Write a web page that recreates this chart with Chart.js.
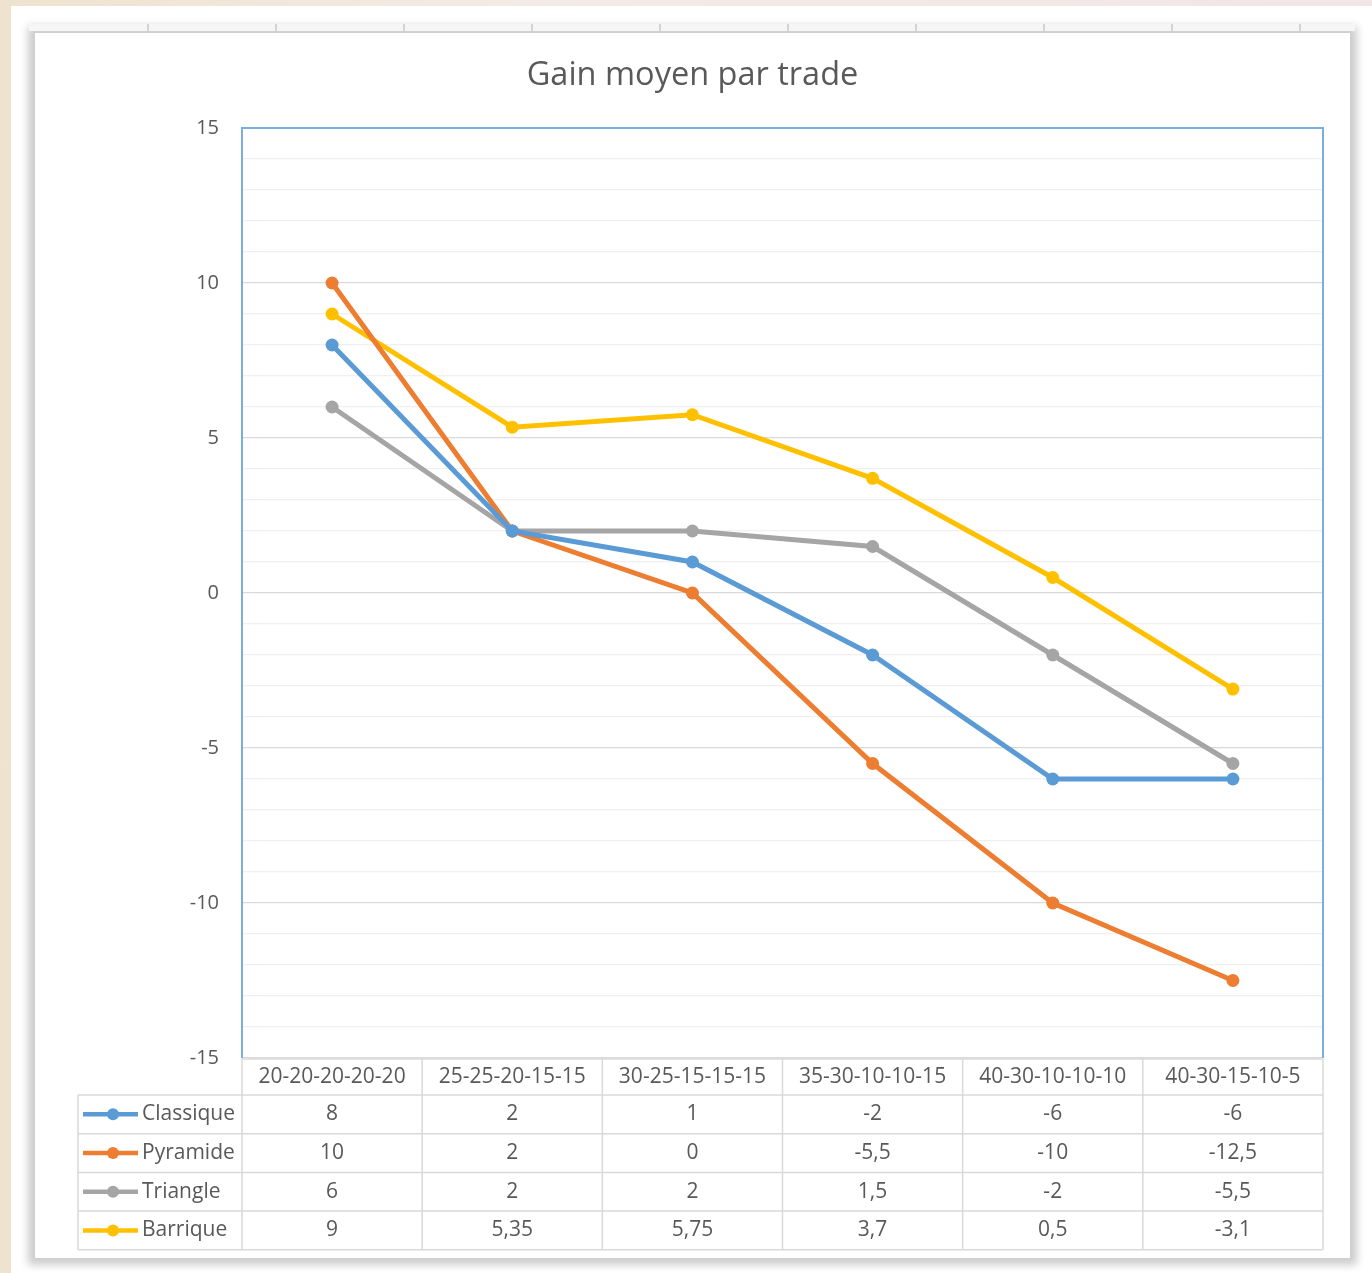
<!DOCTYPE html>
<html lang="fr">
<head>
<meta charset="utf-8">
<title>Gain moyen par trade</title>
<script src="https://cdn.jsdelivr.net/npm/chart.js@4.4.1/dist/chart.umd.min.js"></script>
<style>
  html, body { margin: 0; padding: 0; }
  body {
    width: 1372px; height: 1273px; overflow: hidden; position: relative;
    background: linear-gradient(90deg, #efe3cf 0%, #f3ebe6 40%, #f1e6e6 100%);
  }
  .sheet { position: absolute; left: 11px; top: 6px; right: 0; bottom: 0; background: #fff; }
  .card {
    position: absolute; left: 35px; top: 33px; width: 1315px; height: 1225px;
    background: #fff;
    box-shadow: 0 0 8px 7px rgba(0, 0, 0, 0.2);
  }
  .strip {
    position: absolute; left: 29px; top: 24px; width: 1326px; height: 7px;
    background: repeating-linear-gradient(90deg, #f6f6f6 0, #f6f6f6 126px, #d4d4d4 126px, #d4d4d4 128px);
    background-position: -8px 0;
    z-index: 2;
  }
  canvas { display: block; }
</style>
</head>
<body>
<div class="sheet"></div>
<div class="card"><canvas id="gainChart" width="1315" height="1225" style="width:1315px;height:1225px"></canvas></div>
<div class="strip"></div>
<script>
  const categories = ['20-20-20-20-20', '25-25-20-15-15', '30-25-15-15-15', '35-30-10-10-15', '40-30-10-10-10', '40-30-15-10-5'];
  const classique = [8, 2, 1, -2, -6, -6];
  const pyramide = [10, 2, 0, -5.5, -10, -12.5];
  const triangle = [6, 2, 2, 1.5, -2, -5.5];
  const barrique = [9, 5.35, 5.75, 3.7, 0.5, -3.1];
  const seriesNames = ['Classique', 'Pyramide', 'Triangle', 'Barrique'];
  const seriesColors = ['#5b9bd5', '#ed7d31', '#a5a5a5', '#ffc000'];
  const yTicks = [-15, -10, -5, 0, 5, 10, 15];

  const textColor = '#595959';
  const font = '"Open Sans", "Noto Sans", sans-serif';

  // French decimal comma for the table
  function fr(v) {
    return String(v).replace('.', ',');
  }

  // Blue frame around the plot area (top, left, right)
  const plotFrame = {
    id: 'plotFrame',
    beforeDatasetsDraw(chart) {
      const { ctx, chartArea: a } = chart;
      ctx.save();
      ctx.strokeStyle = '#7aaee0';
      ctx.lineWidth = 2;
      ctx.beginPath();
      ctx.moveTo(a.left, a.bottom);
      ctx.lineTo(a.left, a.top);
      ctx.lineTo(a.right, a.top);
      ctx.lineTo(a.right, a.bottom);
      ctx.stroke();
      ctx.restore();
    }
  };

  // Excel-style data table below the plot
  const dataTable = {
    id: 'dataTable',
    afterDraw(chart) {
      const { ctx, chartArea: a, scales: { x } } = chart;
      const half = (x.getPixelForValue(1) - x.getPixelForValue(0)) / 2;
      const headTop = a.bottom + 1;
      const headH = 36;
      const rowH = 38.7;
      const keyLeft = 43;
      const rowsTop = headTop + headH;
      const rowsBottom = rowsTop + rowH * seriesNames.length;
      const rows = chart.data.datasets;

      ctx.save();
      ctx.strokeStyle = '#d9d9d9';
      ctx.lineWidth = 1.5;
      ctx.beginPath();
      // horizontal lines
      ctx.moveTo(a.left, headTop);
      ctx.lineTo(a.right, headTop);
      for (let r = 0; r <= rows.length; r++) {
        const y = rowsTop + r * rowH;
        ctx.moveTo(keyLeft, y);
        ctx.lineTo(a.right, y);
      }
      // vertical lines
      ctx.moveTo(keyLeft, rowsTop);
      ctx.lineTo(keyLeft, rowsBottom);
      categories.forEach((c, i) => {
        const xl = x.getPixelForValue(i) - half;
        ctx.moveTo(xl, headTop);
        ctx.lineTo(xl, rowsBottom);
      });
      ctx.moveTo(a.right, headTop);
      ctx.lineTo(a.right, rowsBottom);
      ctx.stroke();

      ctx.fillStyle = textColor;
      ctx.font = '21px ' + font;
      ctx.textBaseline = 'middle';
      ctx.textAlign = 'center';
      categories.forEach((c, i) => {
        ctx.fillText(c, x.getPixelForValue(i), headTop + headH / 2);
      });

      rows.forEach((ds, r) => {
        const yc = rowsTop + r * rowH + rowH / 2;
        // legend key
        ctx.strokeStyle = ds.borderColor;
        ctx.lineWidth = 4.5;
        ctx.beginPath();
        ctx.moveTo(keyLeft + 5, yc);
        ctx.lineTo(keyLeft + 60, yc);
        ctx.stroke();
        ctx.fillStyle = ds.borderColor;
        ctx.beginPath();
        ctx.arc(keyLeft + 35, yc, 6, 0, Math.PI * 2);
        ctx.fill();

        ctx.fillStyle = textColor;
        ctx.textAlign = 'left';
        ctx.fillText(ds.label, keyLeft + 64, yc);
        ctx.textAlign = 'center';
        ds.data.forEach((v, i) => {
          ctx.fillText(fr(v), x.getPixelForValue(i), yc);
        });
      });
      ctx.restore();
    }
  };

  const seriesValues = [classique, pyramide, triangle, barrique];

  const ctx = document.getElementById('gainChart').getContext('2d');
  const gainChart = new Chart(ctx, {
    type: 'line',
    data: {
      labels: categories,
      datasets: seriesNames.map((name, i) => ({
        label: name,
        data: seriesValues[i],
        borderColor: seriesColors[i],
        backgroundColor: seriesColors[i],
        borderWidth: 5,
        pointRadius: 6.5,
        pointBorderWidth: 0,
        pointHoverRadius: 6.5,
        tension: 0,
      })),
    },
    options: {
      responsive: false,
      animation: false,
      layout: {
        padding: { left: 27, right: 27, top: 0, bottom: 200 },
      },
      scales: {
        x: {
          offset: true,
          grid: { display: false },
          border: { display: false },
          ticks: { display: false },
          afterFit(scale) {
            scale.height = 0;
          },
        },
        y: {
          min: -15,
          max: 15,
          grid: {
            drawTicks: false,
            lineWidth: 1.3,
            color: (c) => (yTicks.includes(c.tick.value) ? '#d9d9d9' : '#f0f0f0'),
          },
          border: { display: false },
          ticks: {
            stepSize: 1,
            autoSkip: false,
            padding: 23,
            color: textColor,
            font: { family: font, size: 20 },
            callback: (v) => (yTicks.includes(v) ? String(v) : ''),
          },
          afterFit(scale) {
            scale.width = 180;
          },
        },
      },
      plugins: {
        legend: { display: false },
        tooltip: { enabled: false },
        title: {
          display: true,
          text: 'Gain moyen par trade',
          color: textColor,
          font: { family: font, size: 32.5, weight: 'normal' },
          padding: { top: 23, bottom: 33 },
        },
      },
    },
    plugins: [plotFrame, dataTable],
  });
</script>
</body>
</html>
